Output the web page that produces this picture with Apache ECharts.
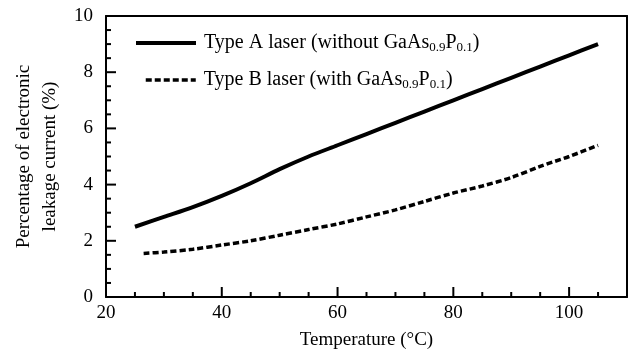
<!DOCTYPE html>
<html><head><meta charset="utf-8">
<script src="https://cdn.jsdelivr.net/npm/echarts@6/dist/echarts.min.js"></script>
<style>html,body{margin:0;padding:0;background:#fff}#c{width:630px;height:356px}</style>
</head><body><div id="c"></div>
<script>
var temperaturesA = [25, 30, 35, 40, 45, 50, 55, 60, 65, 70, 75, 80, 85, 90, 95, 100, 105];
var typeA = [2.5, 2.85, 3.2, 3.6, 4.05, 4.55, 5.0, 5.4, 5.8, 6.2, 6.6, 7.0, 7.4, 7.8, 8.2, 8.6, 9.0];
var temperaturesB = [26.5, 30, 35, 40, 45, 50, 55, 60, 65, 70, 75, 80, 85, 90, 95, 100, 105];
var typeB = [1.55, 1.6, 1.7, 1.85, 2.0, 2.2, 2.4, 2.6, 2.85, 3.1, 3.4, 3.7, 3.95, 4.25, 4.65, 5.0, 5.4];
var xTicks = [20, 40, 60, 80, 100];
var yTicks = [0, 2, 4, 6, 8, 10];
var nameA = 'Type A laser (without GaAs0.9P0.1)';
var nameB = 'Type B laser (with GaAs0.9P0.1)';

var X_MIN = 20, X_MAX = 110, X_MAJOR = 20, X_MINOR = 5;
var Y_MIN = 0, Y_MAX = 10, Y_MAJOR = 2, Y_MINOR = 0.5;

function zip(xs, ys) { return xs.map(function (x, i) { return [x, ys[i]]; }); }
var font = 'Liberation Serif';
var rich = {
  n: { fontFamily: font, fontSize: 20, color: '#000' },
  s: { fontFamily: font, fontSize: 13, color: '#000', padding: [10, 0, 0, 0] }
};
function legendFmt(name) {
  return name.replace(/GaAs0\.9P0\.1/, '{n|GaAs}{s|0.9}{n|P}{s|0.1}').replace(/^([^{]*)/, '{n|$1}').replace(/\)$/, '{n|)}');
}
// tick marks (axis decoration), placed through the axes' own scales
var tickData = [];
for (var tx = X_MIN + X_MINOR; tx < X_MAX - 1e-9; tx += X_MINOR) {
  tickData.push([tx, 0, Math.abs(tx % X_MAJOR) < 1e-9 ? 10 : 5]);
}
for (var ty = Y_MIN + Y_MINOR; ty < Y_MAX - 1e-9; ty += Y_MINOR) {
  tickData.push([ty, 1, Math.abs(ty % Y_MAJOR) < 1e-9 ? 10 : 5]);
}
function renderTick(params, api) {
  var v = api.value(0), kind = api.value(1), len = api.value(2), p;
  if (kind === 0) {
    p = api.coord([v, Y_MIN]);
    return { type: 'line', shape: { x1: p[0], y1: p[1], x2: p[0], y2: p[1] - len }, style: { stroke: '#000', lineWidth: 2 } };
  }
  p = api.coord([X_MIN, v]);
  return { type: 'line', shape: { x1: p[0], y1: p[1], x2: p[0] + len, y2: p[1] }, style: { stroke: '#000', lineWidth: 2 } };
}
var frameAxis = {
  axisLine: { show: true, onZero: false, lineStyle: { color: '#000', width: 2 } },
  axisTick: { show: false }, minorTick: { show: false }, axisLabel: { show: false }, splitLine: { show: false }
};
var chart = echarts.init(document.getElementById('c'), null, { renderer: 'canvas' });
chart.setOption({
  animation: false,
  backgroundColor: '#fff',
  grid: { left: 106, right: 2, top: 16, bottom: 59 },
  legend: [
    { data: [nameA], left: 129, top: 28, itemWidth: 60, itemHeight: 10, orient: 'vertical', formatter: legendFmt,
      itemStyle: { opacity: 0 }, lineStyle: { width: 4 },
      textStyle: { rich: rich, padding: [0, 0, 0, 3] } },
    { data: [nameB], left: 139, top: 65, itemWidth: 50, itemHeight: 10, orient: 'vertical', formatter: legendFmt,
      itemStyle: { opacity: 0 }, lineStyle: { width: 3.5 },
      textStyle: { rich: rich, padding: [0, 0, 0, 3] } }
  ],
  xAxis: [{
    type: 'value', min: X_MIN, max: X_MAX, interval: X_MAJOR, position: 'bottom',
    name: 'Temperature (°C)', nameLocation: 'middle', nameGap: 34,
    nameTextStyle: { fontFamily: font, fontSize: 19, color: '#000' },
    axisLine: { show: true, onZero: false, lineStyle: { color: '#000', width: 2 } },
    axisTick: { show: false }, minorTick: { show: false },
    axisLabel: { fontFamily: font, fontSize: 19, color: '#000', margin: 7,
      formatter: function (v) { return xTicks.indexOf(v) >= 0 ? String(v) : ''; } },
    splitLine: { show: false }
  }, Object.assign({ type: 'value', min: X_MIN, max: X_MAX, interval: X_MAJOR, position: 'top' }, frameAxis)],
  yAxis: [{
    type: 'value', min: Y_MIN, max: Y_MAX, interval: Y_MAJOR, position: 'left',
    name: 'Percentage of electronic\nleakage current (%)', nameLocation: 'middle', nameGap: 38,
    nameTextStyle: { fontFamily: font, fontSize: 19, color: '#000', lineHeight: 26 },
    axisLine: { show: true, onZero: false, lineStyle: { color: '#000', width: 2 } },
    axisTick: { show: false }, minorTick: { show: false },
    axisLabel: { fontFamily: font, fontSize: 19, color: '#000', margin: 13,
      formatter: function (v) { return yTicks.indexOf(v) >= 0 ? String(v) : ''; } },
    splitLine: { show: false }
  }, Object.assign({ type: 'value', min: Y_MIN, max: Y_MAX, interval: Y_MAJOR, position: 'right' }, frameAxis)],
  series: [
    { name: nameA, type: 'line', data: zip(temperaturesA, typeA), showSymbol: false, symbol: 'none', smooth: 0.3,
      lineStyle: { color: '#000', width: 4, type: 'solid' }, itemStyle: { color: '#000' } },
    { name: nameB, type: 'line', data: zip(temperaturesB, typeB), showSymbol: false, symbol: 'none', smooth: 0.3,
      lineStyle: { color: '#000', width: 3.5, type: [6, 3] }, itemStyle: { color: '#000' } },
    { name: 'ticks', type: 'custom', data: tickData, renderItem: renderTick, silent: true, clip: false, z: 3,
      encode: { x: 0 }, tooltip: { show: false } }
  ]
});
</script></body></html>
